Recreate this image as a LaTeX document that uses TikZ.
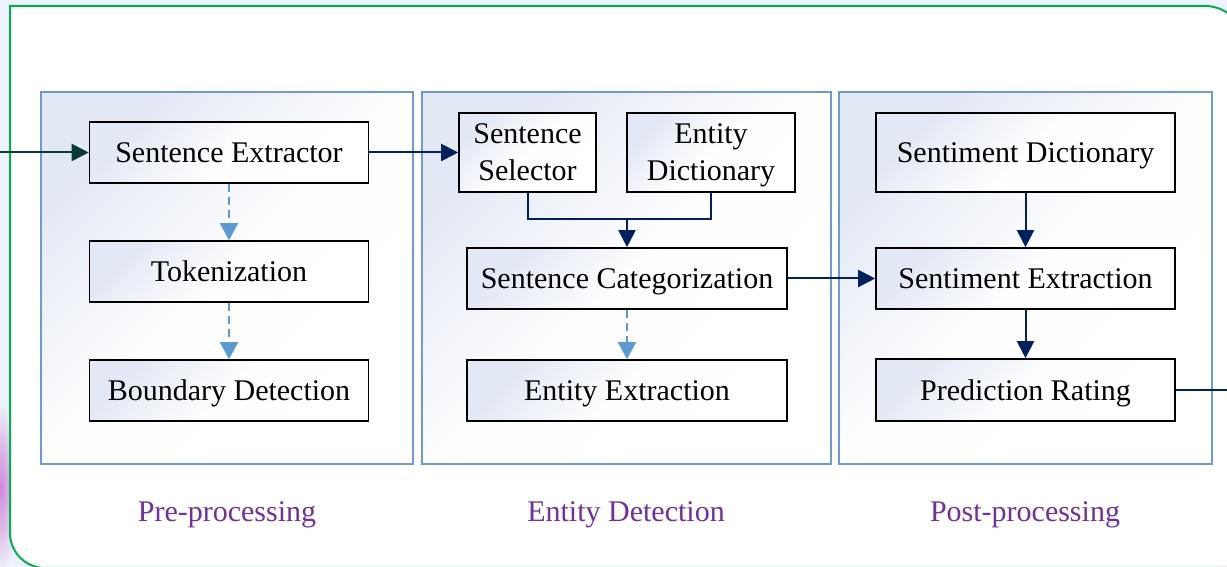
\documentclass[tikz,border=0pt]{standalone}
\usepackage{fontspec}
\setmainfont{Liberation Serif}
\usetikzlibrary{arrows.meta}
\definecolor{bgblue}{HTML}{EEF3FB}
\definecolor{glow}{HTML}{CF86D8}
\definecolor{framegreen}{HTML}{00B050}
\definecolor{grpblue}{HTML}{6C9BCF}
\definecolor{shadetop}{HTML}{E2E8F4}
\definecolor{navy}{HTML}{002060}
\definecolor{intake}{HTML}{073B31}
\definecolor{dashblue}{HTML}{5B9BD5}
\definecolor{lblpurple}{HTML}{7030A0}
\tikzset{
  grpbox/.style={draw=grpblue, line width=1.5pt, top color=shadetop, bottom color=white, middle color=white!96!shadetop, shading angle=45},
  procbox/.style={draw=black, line width=1.6pt, top color=shadetop, bottom color=white, middle color=white!94!shadetop, shading angle=45, inner sep=0pt, minimum height=61pt, text height=21pt, text depth=0pt, font=\fontsize{30}{37}\selectfont},
  boxtext/.style={inner sep=0pt, anchor=base, font=\fontsize{30}{37}\selectfont},
  solidarrow/.style={draw=navy, line width=2pt, -{Triangle[length=17pt,width=17pt]}},
  dasharrow/.style={draw=dashblue, line width=2pt, dash pattern=on 8pt off 5pt, -{Triangle[length=17pt,width=18pt]}},
  grplabel/.style={text=lblpurple, font=\fontsize{30}{37}\selectfont},
}
\begin{document}
\begin{tikzpicture}[x=1pt,y=1pt]
\useasboundingbox (0,0) rectangle (1227,567);
\fill[bgblue] (0,0) rectangle (1227,567);
\shade[inner color=glow, outer color=bgblue] (0,80) ellipse [x radius=22, y radius=85];
% outer frame
\filldraw[draw=framegreen, fill=white, line width=2pt]
  (45,-1) arc[start angle=-90, end angle=-180, radius=35]
  -- (10,561) -- (1205,561) arc[start angle=90, end angle=0, radius=40]
  -- (1245,-1) -- cycle;
% groups
\path[grpbox] (41,103) rectangle (413,475);
\path[grpbox] (422,103) rectangle (831,475);
\path[grpbox] (839,103) rectangle (1212,475);
% nodes
\node[procbox, minimum width=279pt] (se) at (229,414.5) {Sentence Extractor};
\node[procbox, minimum width=279pt] (tok) at (229,295.5) {Tokenization};
\node[procbox, minimum width=279pt] (bd) at (229,176.5) {Boundary Detection};
\node[procbox, minimum width=137pt, minimum height=79pt] (ss) at (527.5,414.5) {};
\node[boxtext] (ss1) at ([yshift=8.5pt]ss.center) {Sentence};
\node[boxtext] (ss2) at ([yshift=-28.5pt]ss.center) {Selector};
\node[procbox, minimum width=168pt, minimum height=79pt] (ed) at (711,414.5) {};
\node[boxtext] (ed1) at ([yshift=8.5pt]ed.center) {Entity};
\node[boxtext] (ed2) at ([yshift=-28.5pt]ed.center) {Dictionary};
\node[procbox, minimum width=320pt] (sc) at (627,288.5) {Sentence Categorization};
\node[procbox, minimum width=320pt] (ee) at (627,176.5) {Entity Extraction};
\node[procbox, minimum width=299pt, minimum height=79pt] (sd) at (1025.5,414.5) {Sentiment Dictionary};
\node[procbox, minimum width=299pt] (sx) at (1025.5,288.5) {Sentiment Extraction};
\node[procbox, minimum width=299pt, minimum height=62pt] (pr) at (1025.5,177) {Prediction Rating};
% labels
\node[grplabel] (l1) at (227,52) {Pre-processing};
\node[grplabel] (l2) at (626,52) {Entity Detection};
\node[grplabel] (l3) at (1025,52) {Post-processing};
% connectors
\coordinate (in) at (0,414.5);
\coordinate (out) at (1227,177);
\coordinate (join) at (627,348);
\draw[solidarrow, draw=intake, -{Triangle[length=17pt,width=17pt,fill=intake]}] (in) -- (se.west);
\draw[solidarrow] (se.east) -- (ss.west);
\draw[dasharrow] (se.south) -- (tok.north);
\draw[dasharrow] (tok.south) -- (bd.north);
\draw[draw=navy, line width=2pt] (ss.south) |- (join) -| (ed.south);
\draw[solidarrow] (join) -- (sc.north);
\draw[dasharrow] (sc.south) -- (ee.north);
\draw[solidarrow] (sc.east) -- (sx.west);
\draw[solidarrow] (sd.south) -- (sx.north);
\draw[solidarrow] (sx.south) -- (pr.north);
\draw[draw=navy, line width=2pt] (pr.east) -- (out);
\end{tikzpicture}
\end{document}
